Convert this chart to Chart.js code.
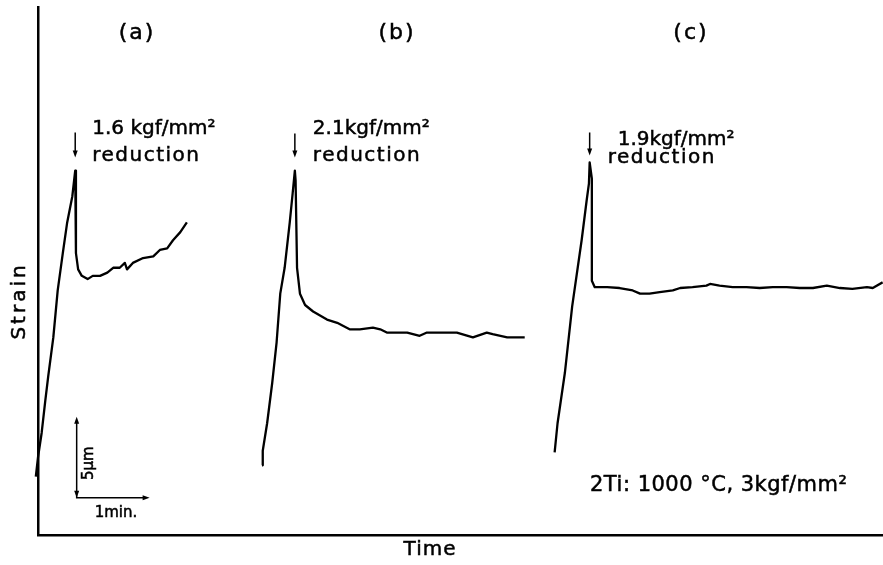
<!DOCTYPE html>
<html>
<head>
<meta charset="utf-8">
<script src="https://cdn.jsdelivr.net/npm/chart.js@4"></script>
<style>
  html, body { margin: 0; padding: 0; background: #fff; }
  #wrap { width: 883px; height: 565px; }
</style>
</head>
<body>
<div id="wrap"><canvas id="strainChart" width="883" height="565"></canvas></div>
<script>
// Creep traces: time in minutes, strain in micrometres
const timeA = [-0.03, 0, 0.05, 0.10, 0.14, 0.21, 0.27, 0.34, 0.40, 0.47, 0.51, 0.52, 0.55, 0.60, 0.68, 0.75, 0.85, 0.95, 1.03, 1.12, 1.19, 1.22, 1.30, 1.44, 1.58, 1.67, 1.77, 1.85, 1.95, 2.04];
const strainA = [3.6, 4.8, 6.3, 8.3, 9.8, 12.2, 15.1, 17.4, 19.3, 20.9, 22.5, 17.4, 16.4, 16.0, 15.8, 16.0, 16.0, 16.2, 16.5, 16.5, 16.8, 16.4, 16.8, 17.1, 17.2, 17.6, 17.7, 18.2, 18.7, 19.3];

const timeB = [3.07, 3.08, 3.14, 3.21, 3.27, 3.32, 3.38, 3.45, 3.49, 3.52, 3.53, 3.55, 3.59, 3.66, 3.77, 3.96, 4.10, 4.27, 4.41, 4.59, 4.69, 4.78, 4.86, 5.06, 5.23, 5.33, 5.51, 5.74, 5.96, 6.15, 6.23, 6.43, 6.56, 6.67];
const strainB = [4.3, 5.2, 6.9, 9.4, 11.9, 14.9, 16.5, 19.3, 21.1, 22.5, 21.9, 16.5, 14.9, 14.2, 13.8, 13.3, 13.1, 12.7, 12.7, 12.8, 12.7, 12.5, 12.5, 12.5, 12.3, 12.5, 12.5, 12.5, 12.2, 12.5, 12.4, 12.2, 12.2, 12.2];

const timeC = [7.08, 7.12, 7.22, 7.32, 7.45, 7.52, 7.55, 7.56, 7.59, 7.59, 7.63, 7.80, 7.97, 8.15, 8.25, 8.38, 8.52, 8.70, 8.80, 8.97, 9.16, 9.21, 9.34, 9.52, 9.71, 9.89, 10.07, 10.26, 10.44, 10.62, 10.81, 10.99, 11.16, 11.36, 11.44, 11.575];
const strainC = [5.1, 6.9, 10.0, 14.1, 18.2, 20.7, 21.7, 23.0, 22.0, 15.7, 15.3, 15.3, 15.25, 15.1, 14.9, 14.9, 15.0, 15.1, 15.25, 15.3, 15.4, 15.5, 15.4, 15.3, 15.3, 15.25, 15.3, 15.3, 15.25, 15.25, 15.4, 15.25, 15.2, 15.3, 15.25, 15.6];

// Labels
const panelNames = ['(a)', '(b)', '(c)'];
const reductionLabels = ['1.6 kgf/mm²', '2.1kgf/mm²', '1.9kgf/mm²'];
const conditionText = '2Ti: 1000 °C, 3kgf/mm²';
const xTitle = 'Time';
const yTitle = 'Strain';

// Scale bar (min, µm)
const barOrigin = [0.53, 2.3];
const barTime = 1;
const barStrain = 5;

const FONT = '"DejaVu Sans", sans-serif';

const toPoints = (t, s) => t.map((v, i) => ({ x: v, y: s[i] }));
const series = [[timeA, strainA], [timeB, strainB], [timeC, strainC]];

// Scanned lettering is heavier than a plain fill
const inkText = (ctx, text, x, y) => {
    ctx.lineWidth = 0.5;
    ctx.strokeText(text, x, y);
    ctx.fillText(text, x, y);
};

// Down arrow with a filled head at yTip
const downArrow = (ctx, x, yTop, yTip) => {
    ctx.lineWidth = 1.5;
    ctx.beginPath();
    ctx.moveTo(x, yTop);
    ctx.lineTo(x, yTip - 5);
    ctx.stroke();
    ctx.beginPath();
    ctx.moveTo(x - 2.5, yTip - 7);
    ctx.lineTo(x + 2.5, yTip - 7);
    ctx.lineTo(x, yTip);
    ctx.closePath();
    ctx.fill();
};

const head = (ctx, x, y, dx, dy) => {
    // dx,dy = direction the arrow points
    const px = -dy, py = dx;
    ctx.beginPath();
    ctx.moveTo(x, y);
    ctx.lineTo(x - dx * 7 + px * 2.5, y - dy * 7 + py * 2.5);
    ctx.lineTo(x - dx * 7 - px * 2.5, y - dy * 7 - py * 2.5);
    ctx.closePath();
    ctx.fill();
};

// text offsets from each peak (px): [line1 dx, line1 dy, line2 dx, line2 dy, arrow top dy, arrow tip dy]
const labelOffsets = [
    [17, -37, 17, -10, -38, -13],
    [18, -37, 18, -10, -37, -13],
    [28, -17, 18, 1, -30, -7]
];
const panelLabelX = [137, 397, 691];

const annotate = {
    id: 'annotate',
    afterDatasetsDraw(chart) {
        const { ctx, chartArea, scales: { x, y } } = chart;
        ctx.save();
        ctx.fillStyle = '#000';
        ctx.strokeStyle = '#000';

        // axis titles
        ctx.textAlign = 'center';
        ctx.textBaseline = 'middle';
        ctx.font = '20px ' + FONT;
        ctx.letterSpacing = '1px';
        inkText(ctx, xTitle, 430, chartArea.bottom + 15);
        ctx.save();
        ctx.translate(20, 301);
        ctx.rotate(-Math.PI / 2);
        ctx.letterSpacing = '3px';
        inkText(ctx, yTitle, 0, 0);
        ctx.restore();

        // panel letters
        ctx.font = '22px ' + FONT;
        ctx.letterSpacing = '2px';
        panelNames.forEach((name, i) => inkText(ctx, name, panelLabelX[i], 33));

        // reduction notes + arrows above each peak
        ctx.textAlign = 'left';
        ctx.textBaseline = 'alphabetic';
        ctx.font = '20px ' + FONT;
        series.forEach(([t, s], i) => {
            const k = s.indexOf(Math.max(...s));
            const px = x.getPixelForValue(t[k]);
            const py = y.getPixelForValue(s[k]);
            const o = labelOffsets[i];
            ctx.letterSpacing = '0px';
            inkText(ctx, reductionLabels[i], px + o[0], py + o[1]);
            ctx.letterSpacing = '1.5px';
            inkText(ctx, 'reduction', px + o[2], py + o[3]);
            downArrow(ctx, px, py + o[4], py + o[5]);
        });

        // test condition
        ctx.letterSpacing = '0.5px';
        ctx.font = '21px ' + FONT;
        inkText(ctx, conditionText, 590, 491);

        // scale bar
        const x0 = x.getPixelForValue(barOrigin[0]);
        const y0 = y.getPixelForValue(barOrigin[1]);
        const x1 = x.getPixelForValue(barOrigin[0] + barTime);
        const y1 = y.getPixelForValue(barOrigin[1] + barStrain);
        ctx.lineWidth = 1.5;
        ctx.beginPath();
        ctx.moveTo(x0, y1 + 4);
        ctx.lineTo(x0, y0);
        ctx.lineTo(x1 - 4, y0);
        ctx.stroke();
        head(ctx, x0, y1, 0, -1);
        head(ctx, x0, y0, 0, 1);
        head(ctx, x1, y0, 1, 0);

        ctx.letterSpacing = '0px';
        ctx.font = '15px ' + FONT;
        inkText(ctx, '1min.', x0 + 18, y0 + 19);
        ctx.save();
        ctx.translate(x0 + 12, (y0 + y1) / 2 + 6);
        ctx.rotate(-Math.PI / 2);
        ctx.textAlign = 'center';
        ctx.textBaseline = 'middle';
        inkText(ctx, '5μm', 0, 0);
        ctx.restore();

        ctx.restore();
    }
};

const datasets = series.map(([t, s]) => ({
    data: toPoints(t, s),
    borderColor: '#000',
    borderWidth: 2.3,
    pointRadius: 0,
    tension: 0,
    clip: false,
    borderJoinStyle: 'round'
}));

new Chart(document.getElementById('strainChart'), {
    type: 'line',
    data: { datasets },
    options: {
        responsive: false,
        animation: false,
        devicePixelRatio: 1,
        // room for the hand-placed axis titles
        layout: { padding: { left: 38, top: 7, right: 0, bottom: 30 } },
        plugins: { legend: { display: false }, tooltip: { enabled: false } },
        scales: {
            x: {
                type: 'linear',
                min: 0,
                max: 11.58,
                grid: { display: false, drawTicks: false },
                border: { display: true, color: '#000', width: 2.5 },
                ticks: { display: false }
            },
            y: {
                type: 'linear',
                min: 0,
                max: 32.6,
                grid: { display: false, drawTicks: false },
                border: { display: true, color: '#000', width: 2.5 },
                ticks: { display: false }
            }
        }
    },
    plugins: [annotate]
});
</script>
</body>
</html>
